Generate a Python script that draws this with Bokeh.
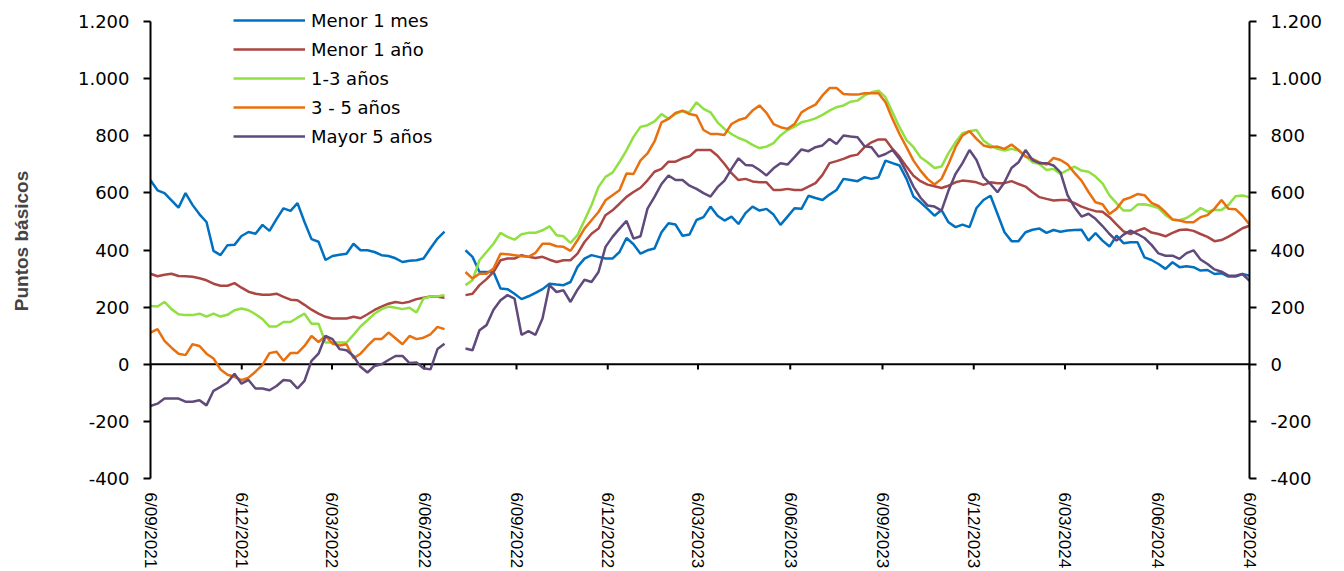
import numpy as np
import pandas as pd
from bokeh.plotting import figure
from bokeh.models import (Range1d, LinearAxis, FixedTicker, CustomJSTickFormatter,
                          Legend, LegendItem, Span, ColumnDataSource)
from bokeh.embed import file_html
from bokeh.resources import INLINE

# ---------------- data ----------------
start_date = "2021-09-06"
end_date = "2024-09-06"
n_obs = 158

tick_dates = ["2021-09-06", "2021-12-06", "2022-03-06", "2022-06-06", "2022-09-06",
              "2022-12-06", "2023-03-06", "2023-06-06", "2023-09-06", "2023-12-06",
              "2024-03-06", "2024-06-06", "2024-09-06"]
y_ticks = [-400, -200, 0, 200, 400, 600, 800, 1000, 1200]

series_names = ["Menor 1 mes", "Menor 1 año", "1-3 años", "3 - 5 años", "Mayor 5 años"]
series_colors = ["#0070C0", "#AA4643", "#8FE040", "#E8700F", "#604A7B"]

menor_1_mes = [
    644, 609, 599, 574, 548, 599, 558, 525, 498, 397, 382, 417, 418, 449, 463, 457, 488, 467, 508, 546,
    537, 564, 498, 438, 429, 365, 379, 383, 387, 422, 399, 399, 393, 382, 379, 371, 358, 362, 364, 370,
    406, 440, 464,
    None, None,
    399, 376, 323, 323, 323, 265, 263, 247, 228, 238, 250, 263, 282, 279, 277, 288, 341, 370, 382, 376,
    370, 370, 393, 442, 420, 387, 399, 405,
    462, 494, 489, 450, 454, 505, 515, 552, 520, 503, 517, 491, 529, 552, 538, 544, 524, 488, 517, 546,
    544, 590, 582, 575, 594, 610, 649, 645,
    641, 655, 649, 655, 713, 704, 696, 649, 587, 567, 544, 520, 540, 497, 480, 489, 480, 547, 575, 590,
    526, 462, 431, 431, 462, 471, 475, 460,
    470, 464, 468, 470, 471, 433, 459, 433, 412, 450, 424, 427, 427, 374, 365, 351, 334, 357, 340, 343,
    340, 328, 330, 316, 319, 307, 307, 316, 310]

menor_1_anio = [
    317, 308, 313, 317, 309, 308, 306, 301, 294, 282, 275, 275, 284, 268, 254, 247, 243, 243, 247, 236,
    226, 224, 208, 191, 177, 166, 160, 160, 160, 166, 161, 175, 190, 202, 212, 218, 214, 219, 228, 233,
    237, 236, 233,
    None, None,
    242, 247, 277, 298, 323, 364, 370, 370, 382, 376, 372, 376, 366, 358, 364, 364, 387, 428, 457, 475,
    522, 539, 562, 586, 603, 618, 644, 674,
    684, 709, 709, 721, 728, 750, 750, 750, 730, 701, 669, 645, 649, 640, 637, 637, 610, 610, 614, 610,
    610, 622, 634, 663, 704, 711, 719, 729,
    734, 760, 777, 787, 787, 754, 727, 692, 660, 641, 629, 623, 617, 625, 637, 643, 641, 637, 628, 637,
    634, 634, 641, 631, 622, 602, 585, 579,
    573, 575, 575, 564, 552, 543, 536, 534, 515, 490, 465, 456, 468, 476, 461, 456, 448, 460, 470, 472,
    467, 456, 446, 431, 435, 447, 461, 476, 485]

uno_tres_anios = [
    204, 202, 218, 193, 175, 172, 172, 177, 167, 177, 167, 173, 189, 195, 189, 175, 158, 132, 132, 148,
    148, 163, 177, 142, 142, 76, 76, 76, 76, 103, 132, 154, 177, 193, 202, 198, 193, 198, 181, 230,
    237, 237, 243,
    None, None,
    277, 294, 364, 393, 422, 460, 446, 436, 455, 460, 460, 469, 483, 452, 448, 425, 452, 504, 557, 621,
    656, 671, 708, 749, 796, 831, 837, 850,
    876, 859, 876, 886, 882, 917, 894, 882, 847, 824, 806, 792, 783, 768, 757, 762, 774, 801, 820, 832,
    847, 853, 861, 873, 888, 900, 906, 919,
    923, 941, 952, 958, 935, 882, 830, 785, 760, 725, 707, 687, 692, 739, 777, 809, 816, 820, 783, 766,
    754, 748, 754, 748, 730, 707, 701, 680,
    684, 666, 680, 692, 678, 674, 657, 633, 591, 564, 538, 538, 559, 560, 555, 547, 522, 506, 504, 512,
    528, 547, 534, 540, 540, 558, 588, 591, 585]

tres_cinco_anios = [
    111, 123, 82, 58, 37, 32, 70, 64, 37, 20, -18, -37, -44, -56, -47, -26, -2, 39, 44, 12,
    39, 39, 64, 99, 78, 99, 72, 66, 70, 21, 37, 64, 88, 88, 111, 91, 70, 99, 88, 93,
    105, 131, 123,
    None, None,
    323, 300, 317, 317, 335, 387, 385, 382, 378, 376, 390, 422, 422, 413, 411, 397, 434, 475, 504, 533,
    574, 592, 609, 668, 666, 714, 738, 780,
    847, 859, 880, 888, 876, 871, 820, 806, 806, 803, 841, 855, 862, 888, 906, 880, 841, 830, 824, 841,
    882, 897, 909, 941, 967, 967, 946, 944,
    944, 949, 949, 949, 917, 859, 806, 760, 713, 678, 649, 629, 649, 701, 760, 801, 816, 789, 766, 760,
    762, 754, 769, 750, 727, 719, 707, 699,
    722, 715, 700, 670, 643, 603, 567, 560, 526, 544, 576, 584, 596, 592, 565, 554, 532, 507, 503, 497,
    497, 515, 522, 545, 575, 544, 543, 520, 489]

mayor_5_anios = [
    -146, -138, -120, -120, -120, -131, -131, -126, -144, -93, -79, -64, -33, -68, -55, -85, -85, -91, -76, -55,
    -58, -85, -58, 12, 37, 99, 88, 53, 49, 29, -9, -29, -6, 0, 15, 29, 29, 4, 6, -14,
    -18, 53, 72,
    None, None,
    55, 49, 119, 137, 191, 224, 242, 230, 103, 116, 103, 160, 277, 253, 259, 218, 261, 296, 288, 323,
    411, 446, 475, 502, 440, 448, 545, 586,
    631, 661, 645, 645, 625, 614, 599, 587, 620, 643, 684, 721, 698, 696, 680, 661, 686, 704, 699, 725,
    752, 746, 760, 766, 789, 771, 801, 797,
    795, 763, 760, 727, 736, 750, 719, 672, 622, 583, 556, 552, 538, 608, 666, 704, 750, 715, 655, 631,
    602, 637, 687, 707, 750, 715, 704, 704,
    696, 672, 592, 550, 517, 527, 509, 484, 456, 433, 454, 468, 456, 442, 418, 388, 380, 380, 369, 389,
    399, 367, 351, 332, 324, 310, 310, 316, 292]

all_series = [menor_1_mes, menor_1_anio, uno_tres_anios, tres_cinco_anios, mayor_5_anios]

# ---------------- build ----------------
dates = pd.date_range(start_date, end_date, periods=n_obs)
data = {"date": dates}
keys = []
for i, s in enumerate(all_series):
    k = f"s{i}"
    keys.append(k)
    data[k] = np.array([np.nan if v is None else v for v in s], dtype=float)
src = ColumnDataSource(data)

t0 = pd.Timestamp(start_date).value // 10**6
t1 = pd.Timestamp(end_date).value // 10**6
tick_ms = [pd.Timestamp(d).value // 10**6 for d in tick_dates]

# frame: 1600 units over 457 px; extra headroom above 1200 so the legend is not clipped
px_per_unit = 457 / (y_ticks[-1] - y_ticks[0])
head_px = 18
y_top = y_ticks[-1] + head_px / px_per_unit

p = figure(width=1344, height=571, x_axis_type="datetime",
           x_range=Range1d(t0, t1), y_range=Range1d(y_ticks[0], y_top),
           output_backend="svg", toolbar_location=None,
           min_border_left=150, min_border_right=95, min_border_top=21 - head_px, min_border_bottom=93)
p.xgrid.grid_line_color = None
p.ygrid.grid_line_color = None
p.outline_line_color = None
p.background_fill_color = "white"
p.border_fill_color = "white"

y_fmt = CustomJSTickFormatter(code=r"""
const a = Math.abs(Math.round(tick)).toString().replace(/\B(?=(\d{3})+(?!\d))/g, ".");
return (tick < 0 ? "-" : "") + a;
""")
x_fmt = CustomJSTickFormatter(code=r"""
const d = new Date(tick);
const m = String(d.getUTCMonth() + 1).padStart(2, "0");
return d.getUTCDate() + "/" + m + "/" + d.getUTCFullYear();
""")

# left axis
ly = p.yaxis[0]
ly.ticker = FixedTicker(ticks=y_ticks, minor_ticks=[])
ly.formatter = y_fmt
ly.axis_label = "Puntos básicos"
ly.axis_label_text_font = "Liberation Sans"
ly.axis_label_text_font_style = "bold"
ly.axis_label_text_font_size = "19px"
ly.axis_label_standoff = 43

# right axis
p.extra_y_ranges = {"r": Range1d(y_ticks[0], y_top)}
ry = LinearAxis(y_range_name="r", ticker=FixedTicker(ticks=y_ticks, minor_ticks=[]), formatter=y_fmt)
p.add_layout(ry, "right")

for ax in (ly, ry):
    ax.bounds = (y_ticks[0], y_ticks[-1])
    ax.axis_line_color = "black"
    ax.axis_line_width = 2
    ax.major_tick_line_color = "black"
    ax.major_tick_line_width = 2
    ax.major_tick_out = 7
    ax.major_tick_in = 0
    ax.minor_tick_line_color = None
    ax.major_label_text_font = "DejaVu Sans"
    ax.major_label_text_font_size = "18px"
    ax.major_label_text_color = "black"
    ax.major_label_standoff = 14

# bottom axis: labels only
bx = p.xaxis[0]
bx.ticker = FixedTicker(ticks=tick_ms, minor_ticks=[])
bx.formatter = x_fmt
bx.axis_line_color = None
bx.major_tick_line_color = None
bx.minor_tick_line_color = None
bx.major_label_orientation = "vertical"
bx.major_label_text_font = "Liberation Sans"
bx.major_label_text_font_size = "17px"
bx.major_label_text_color = "black"
bx.major_label_standoff = 8

# zero line with tick marks
zero = Span(location=0, dimension="width", line_color="black", line_width=2, level="underlay")
p.add_layout(zero)
tick_dt = pd.to_datetime(tick_dates)
p.segment(x0=tick_dt, y0=[0] * len(tick_dates), x1=tick_dt, y1=[-18] * len(tick_dates),
          line_color="black", line_width=2)

items = []
for k, name, col in zip(keys, series_names, series_colors):
    r = p.line(x="date", y=k, source=src, line_color=col, line_width=2.5)
    items.append(LegendItem(label=name, renderers=[r]))

legend = Legend(items=items, location=(83, 331), orientation="vertical",
                glyph_width=72, glyph_height=22, label_height=22, spacing=7,
                padding=0, margin=0, label_standoff=6,
                border_line_color=None, background_fill_alpha=0,
                label_text_font="DejaVu Sans", label_text_font_size="18px",
                label_text_color="black")
p.add_layout(legend)

open("out.html", "w").write(file_html(p, INLINE))
